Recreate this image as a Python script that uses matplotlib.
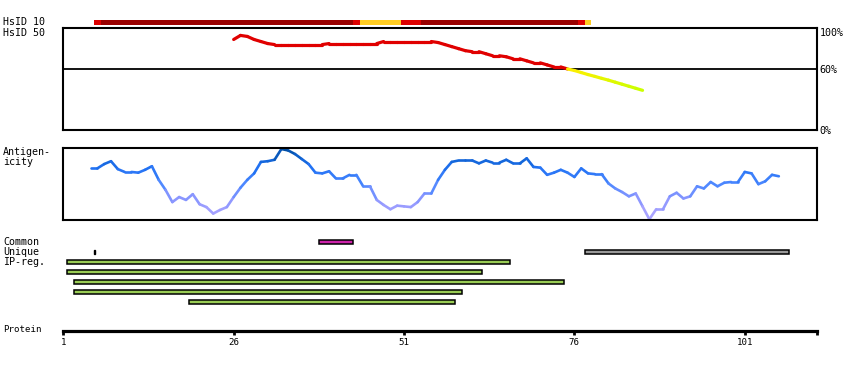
import numpy as np
import matplotlib
matplotlib.use("Agg")
import matplotlib.pyplot as plt
from matplotlib.collections import LineCollection
from matplotlib.colors import LinearSegmentedColormap

# ---------------- data ----------------
protein_ticks = [1, 26, 51, 76, 101]
protein_end = 111.6

# HsID 10 segments (inclusive residue ranges) and class
hsid10_start = [6, 7, 44, 45, 51, 54, 77, 78]
hsid10_end = [6, 43, 44, 50, 53, 76, 77, 78]
hsid10_class = ["mid", "high", "mid", "low", "mid", "high", "mid", "low"]

# HsID 50 identity (%) for residues 26..86
hsid50_res = list(range(26, 87))
hsid50_val = [89, 93, 92, 89, 87, 85, 84, 84, 84, 84, 84, 84, 84, 84,
              85, 85, 85, 85, 85, 85, 85, 85,
              87, 87, 87, 87, 87, 87, 87, 87,
              86, 84, 82, 80, 78, 77, 77, 75, 73, 73, 72, 70, 70, 68, 66, 66,
              64, 62, 62, 60,
              58.5, 56.5, 54.5, 52.7, 50.8, 49, 47, 45, 43, 41, 39]

# Antigenicity (normalised) for residues 5..106
antig_res = list(range(5, 107))
antig_val = [0.72, 0.72, 0.78, 0.82, 0.71, 0.67, 0.67, 0.66, 0.70, 0.75,
             0.56, 0.42, 0.25, 0.32, 0.28, 0.36, 0.22, 0.18, 0.09, 0.14,
             0.18, 0.32, 0.45, 0.56, 0.65, 0.81, 0.82, 0.84, 0.99, 0.97,
             0.92, 0.85, 0.78, 0.66, 0.65, 0.68, 0.58, 0.58, 0.63, 0.63,
             0.47, 0.47, 0.28, 0.21, 0.15, 0.20, 0.19, 0.18, 0.25, 0.37,
             0.37, 0.56, 0.70, 0.81, 0.83, 0.83, 0.83, 0.79, 0.83, 0.80,
             0.80, 0.84, 0.79, 0.79, 0.86, 0.74, 0.73, 0.63, 0.66, 0.70,
             0.66, 0.60, 0.72, 0.65, 0.64, 0.64, 0.51, 0.44, 0.39, 0.33,
             0.37, 0.19, 0.01, 0.15, 0.15, 0.33, 0.38, 0.30, 0.33, 0.47,
             0.44, 0.53, 0.47, 0.52, 0.53, 0.53, 0.67, 0.65, 0.50, 0.54,
             0.63, 0.61]

common_start = [39]
common_end = [43]
unique_marks = [6]
unique_start = [78]
unique_end = [107]
ipreg_start = [2, 2, 3, 3, 20]
ipreg_end = [66, 62, 74, 59, 58]

# ---------------- layout helpers ----------------
W, H = 850, 370
fig = plt.figure(figsize=(W / 100, H / 100), dpi=100)
fig.patch.set_facecolor("white")
X0, X1 = 63.3, 817.0
FONT = "DejaVu Sans Mono"
FS = 7.2


def add_ax(y0, y1, x0=X0, x1=X1):
    return fig.add_axes([x0 / W, 1 - y1 / H, (x1 - x0) / W, (y1 - y0) / H])


def label(x, y, s, **kw):
    fig.text(x / W, 1 - y / H, s, va="center", ha="left", family=FONT,
             fontsize=kw.pop("fs", FS), **kw)


# ---------------- HsID 10 bar ----------------
ax10 = add_ax(20, 24.7)
ax10.set_xlim(1, protein_end)
ax10.set_ylim(0, 1)
ax10.axis("off")
cls_color = {"high": "#990000", "mid": "#dd0000", "low": "#ffcc22"}
for s, e, c in zip(hsid10_start, hsid10_end, hsid10_class):
    ax10.barh(0.5, (e + 0.5) - (s - 0.5), left=s - 0.5, height=1.0,
              color=cls_color[c], linewidth=0)

# ---------------- HsID 50 panel ----------------
ax50 = add_ax(28.3, 130)
ax50.set_xlim(1, protein_end)
ax50.set_ylim(0, 100)
for sp in ax50.spines.values():
    sp.set_linewidth(1.5)
ax50.set_xticks([])
ax50.yaxis.tick_right()
ax50.set_yticks([0, 60, 100])
ax50.set_yticklabels(["0%", "60%", "100%"], family=FONT, fontsize=FS)
ax50.tick_params(axis="y", length=0, pad=2)
for t in ax50.get_yticklabels():
    if t.get_text() == "100%":
        t.set_va("top")
ax50.axhline(60, color="black", lw=1.3)

pts = np.column_stack([hsid50_res, hsid50_val])
segs = np.stack([pts[:-1], pts[1:]], axis=1)
yel_cmap = LinearSegmentedColormap.from_list("yl", ["#ccff00", "#ffee00"])
cols = []
for a, b in zip(hsid50_val[:-1], hsid50_val[1:]):
    m = (a + b) / 2
    if m >= 60:
        cols.append("#e00000")
    else:
        cols.append(yel_cmap(np.clip((m - 40) / 20, 0, 1)))
ax50.add_collection(LineCollection(segs, colors=cols, linewidths=2.3,
                                   capstyle="round", joinstyle="round"))

# ---------------- Antigenicity panel ----------------
axa = add_ax(148.3, 220)
axa.set_xlim(1, protein_end)
axa.set_ylim(0, 1)
for sp in axa.spines.values():
    sp.set_linewidth(1.5)
axa.set_xticks([])
axa.set_yticks([])
blue_cmap = LinearSegmentedColormap.from_list(
    "bl", [(0.0, "#b4a8ff"), (0.3, "#8a96ff"), (0.5, "#4d88ff"),
           (0.72, "#2272f4"), (0.86, "#0f62d2"), (1.0, "#004c9e")])
pts = np.column_stack([antig_res, antig_val])
segs = np.stack([pts[:-1], pts[1:]], axis=1)
mids = [(a + b) / 2 for a, b in zip(antig_val[:-1], antig_val[1:])]
axa.add_collection(LineCollection(segs, colors=[blue_cmap(m) for m in mids],
                                  linewidths=1.9, capstyle="round",
                                  joinstyle="round"))

# ---------------- Feature rows ----------------
axf = add_ax(237.2, 307.2)
axf.set_xlim(1, protein_end)
axf.set_ylim(6.5, -0.5)
axf.axis("off")
bh = 0.42
for s, e in zip(common_start, common_end):
    axf.barh(0, (e + 0.5) - (s - 0.5), left=s - 0.5, height=bh,
             color="#cc22aa", edgecolor="black", linewidth=1.1)
for m in unique_marks:
    axf.barh(1, 0.15, left=m - 0.5, height=bh, color="black",
             edgecolor="black", linewidth=1.0)
for s, e in zip(unique_start, unique_end):
    axf.barh(1, (e + 0.5) - (s - 0.5), left=s - 0.5, height=bh,
             color="#999999", edgecolor="black", linewidth=1.1)
for i, (s, e) in enumerate(zip(ipreg_start, ipreg_end)):
    axf.barh(2 + i, (e + 0.5) - (s - 0.5), left=s - 0.5, height=bh,
             color="#99cc55", edgecolor="black", linewidth=1.1)

# ---------------- Protein axis ----------------
axp = add_ax(300, 330.5)
axp.set_xlim(1, protein_end)
axp.set_ylim(0, 1)
for k in ["top", "left", "right"]:
    axp.spines[k].set_visible(False)
axp.spines["bottom"].set_linewidth(2.3)
axp.set_yticks([])
axp.set_xticks(protein_ticks)
axp.set_xticklabels([str(t) for t in protein_ticks], family=FONT, fontsize=6.6)
axp.set_xticks([protein_end], minor=True)
axp.tick_params(axis="x", which="both", length=3.0, width=2.0, pad=2.5)
axp.patch.set_alpha(0)

# ---------------- Left labels ----------------
label(3, 22, "HsID 10")
label(3, 33, "HsID 50")
label(3, 152, "Antigen-")
label(3, 162, "icity")
label(3, 242, "Common")
label(3, 252, "Unique")
label(3, 262, "IP-reg.")
label(3, 329, "Protein", fs=6.6)

fig.savefig("out.png", dpi=100, facecolor="white")
